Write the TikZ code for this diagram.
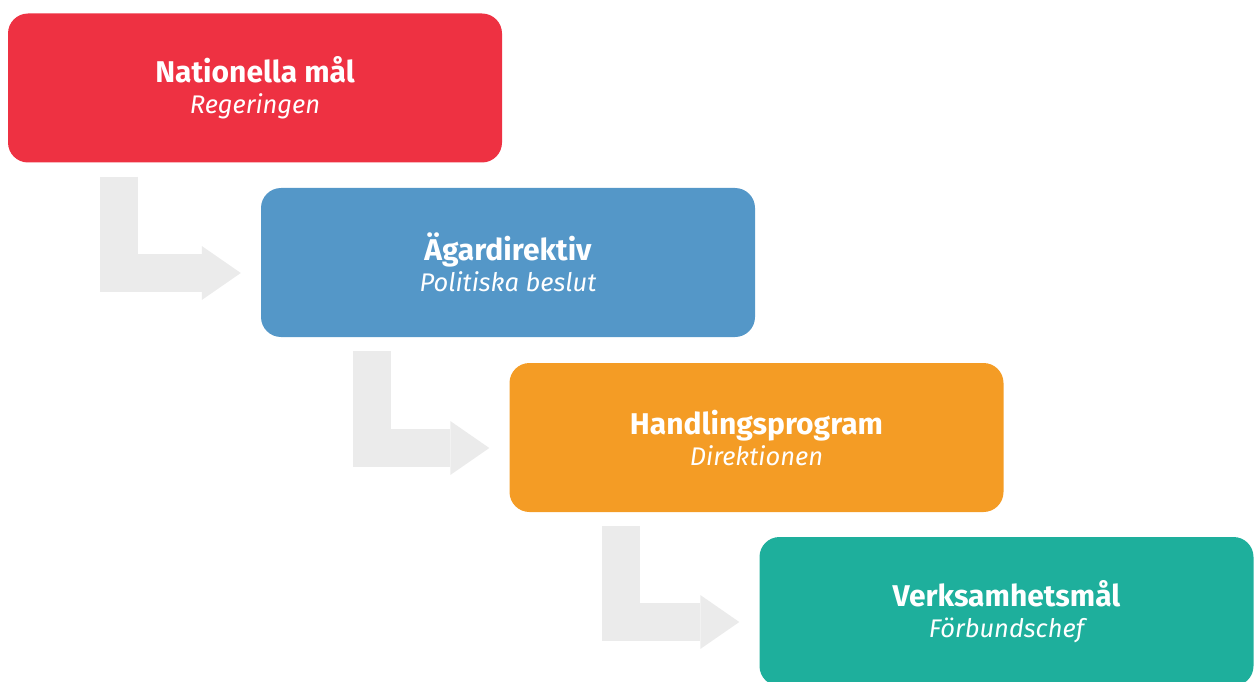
\documentclass[tikz,border=0pt]{standalone}
\usepackage{fontspec}
\setmainfont{Fira Sans}
\usetikzlibrary{arrows.meta, calc}
\definecolor{natred}{HTML}{EE3142}
\definecolor{agarblue}{HTML}{5497C8}
\definecolor{handorange}{HTML}{F49C25}
\definecolor{verkteal}{HTML}{1EAF9C}
\definecolor{flowgrey}{HTML}{EBEBEB}
\newcommand{\leveltitle}[1]{{\fontsize{30}{31}\selectfont\bfseries #1}}
\newcommand{\levelwho}[1]{{\fontsize{25.5}{31}\selectfont\itshape #1}}
\tikzset{
	level/.style={rounded corners=20pt, minimum width=494pt, minimum height=149pt, inner sep=0pt, text=white, align=center, font=\fontsize{28}{31}\selectfont},
	flow/.style={draw=flowgrey, line width=38pt, line join=miter, -{Triangle[length=39pt, width=54pt, line width=0pt]}}
}

\begin{document}
\begin{tikzpicture}[x=1pt, y=-1pt]
				\useasboundingbox (0, 0) rectangle (1259, 682);
				
				\node[level, fill=natred] (nat) at (255, 88) {\leveltitle{Nationella mål}\\\levelwho{Regeringen}};
				\node[level, fill=agarblue] (agar) at (508, 262.5) {\leveltitle{Ägardirektiv}\\\levelwho{Politiska beslut}};
				\node[level, fill=handorange] (hand) at (756.5, 437.5) {\leveltitle{Handlingsprogram}\\\levelwho{Direktionen}};
				\node[level, fill=verkteal] (verk) at (1006.5, 611.5) {\leveltitle{Verksamhetsmål}\\\levelwho{Förbundschef}};
				
				\draw[flow] ($(nat.south west)+(111.5, 14)$) |- ($(agar.west)+(-20, 10.5)$);
				\draw[flow] ($(agar.south west)+(111.5, 14)$) |- ($(hand.west)+(-20, 10.5)$);
				\draw[flow] ($(hand.south west)+(111.5, 14)$) |- ($(verk.west)+(-20, 10.5)$);
			\end{tikzpicture}
\end{document}
